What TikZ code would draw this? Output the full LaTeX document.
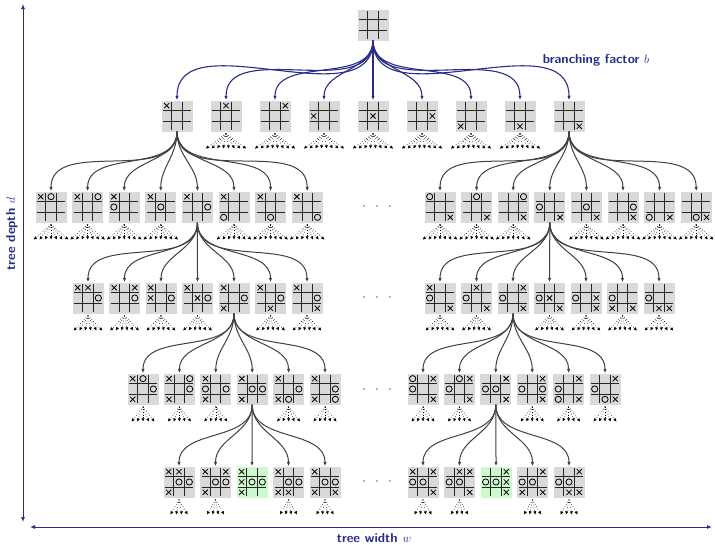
\documentclass[tikz,border=0pt]{standalone}
\usepackage{tikz}
\usetikzlibrary{arrows.meta}
\definecolor{navy}{RGB}{40,45,135}
\definecolor{boardgray}{gray}{0.85}
\definecolor{wingreen}{RGB}{205,250,205}

\newcommand{\board}[5][boardgray]{%
	\node (#2) at (#3) [boardbox, fill=#1] {};
	\begin{scope}[shift={(#3)}]
		\draw[gridline] (-14,-5.17) -- (14,-5.17) (-14,5.17) -- (14,5.17)
			(-5.17,-14) -- (-5.17,14) (5.17,-14) -- (5.17,14);
		\def\bxs{#4}\ifx\bxs\empty\else
		\foreach \c in {#4} {
			\pgfmathsetmacro\cx{(mod(\c-1,3)-1)*10.33}
			\pgfmathsetmacro\cy{(floor((\c-1)/3)-1)*10.33}
			\draw[xmark] (\cx-2.6,\cy-2.6) -- (\cx+2.6,\cy+2.6)
				(\cx-2.6,\cy+2.6) -- (\cx+2.6,\cy-2.6);
		}\fi
		\def\bos{#5}\ifx\bos\empty\else
		\foreach \c in {#5} {
			\pgfmathsetmacro\cx{(mod(\c-1,3)-1)*10.33}
			\pgfmathsetmacro\cy{(floor((\c-1)/3)-1)*10.33}
			\draw[omark] (\cx,\cy) circle (3.1);
		}\fi
	\end{scope}}

\newcommand{\fan}[2]{%
	\foreach \i in {1,...,#2} {
		\draw[fanline] ([yshift=-2pt]#1.south) -- ++({(\i-(#2+1)/2)*5.8},15);
	}}

\begin{document}
\begin{tikzpicture}[x=1pt, y=-1pt,
	boardbox/.style = {minimum size=31pt, inner sep=0pt},
	gridline/.style = {line width=1pt, black!85},
	xmark/.style = {line width=0.8pt, black},
	omark/.style = {line width=0.8pt, black},
	edge/.style = {line width=1pt, black!75, -{Latex[length=4.5pt,width=3.5pt]}},
	rootedge/.style = {edge, navy, line width=1.1pt},
	fanline/.style = {line width=0.6pt, black, dotted, -{Latex[length=3.4pt,width=3.2pt]}},
	axis/.style = {line width=1pt, navy, {Latex[length=5pt,width=4pt]}-{Latex[length=5pt,width=4pt]}},
	axislabel/.style = {navy, font=\fontsize{13}{15}\selectfont\sffamily\bfseries},
	dotsbox/.style = {font=\fontsize{13}{15}\selectfont}]

	\useasboundingbox (0,0) rectangle (715,544);

	\board{r}{373,25}{}{}
	\foreach \j in {1,...,9} {
		\pgfmathsetmacro\bx{177+49*(\j-1)}
		\board{a\j}{\bx,116}{\j}{}
		\ifnum\j=1 \else\ifnum\j=9 \else \fan{a\j}{8}\fi\fi
	}

	\foreach \k [count=\j] in {2,3,4,5,6,7,8,9} {
		\pgfmathsetmacro\bx{51+36.6*(\j-1)}
		\board{bl\j}{\bx,207}{1}{\k}
		\ifnum\j=5 \else \fan{bl\j}{7}\fi
	}
	\foreach \k [count=\j] in {1,2,3,4,5,6,7,8} {
		\pgfmathsetmacro\bx{440+36.6*(\j-1)}
		\board{br\j}{\bx,207}{9}{\k}
		\ifnum\j=4 \else \fan{br\j}{7}\fi
	}

	\foreach \k [count=\j] in {2,3,4,5,7,8,9} {
		\pgfmathsetmacro\bx{88+36.5*(\j-1)}
		\board{cl\j}{\bx,298}{1,\k}{6}
		\ifnum\j=5 \else \fan{cl\j}{6}\fi
	}
	\foreach \k [count=\j] in {1,2,3,5,6,7,8} {
		\pgfmathsetmacro\bx{440+36.5*(\j-1)}
		\board{cr\j}{\bx,298}{9,\k}{4}
		\ifnum\j=3 \else \fan{cr\j}{6}\fi
	}

	\foreach \k [count=\j] in {2,3,4,5,8,9} {
		\pgfmathsetmacro\bx{143+36.4*(\j-1)}
		\board{dl\j}{\bx,389}{1,7}{6,\k}
		\ifnum\j=4 \else \fan{dl\j}{5}\fi
	}
	\foreach \k [count=\j] in {1,2,5,6,7,8} {
		\pgfmathsetmacro\bx{423+36.4*(\j-1)}
		\board{dr\j}{\bx,389}{3,9}{4,\k}
		\ifnum\j=3 \else \fan{dr\j}{5}\fi
	}

	\foreach \k [count=\j] in {2,3,4,8,9} {
		\pgfmathsetmacro\bx{179+36.5*(\j-1)}
		\ifnum\j=3
			\board[wingreen]{el\j}{\bx,482}{1,7,\k}{5,6}
		\else
			\board{el\j}{\bx,482}{1,7,\k}{5,6}
			\fan{el\j}{4}
		\fi
	}
	\foreach \k [count=\j] in {1,2,6,7,8} {
		\pgfmathsetmacro\bx{423+36.5*(\j-1)}
		\ifnum\j=3
			\board[wingreen]{er\j}{\bx,482}{3,9,\k}{4,5}
		\else
			\board{er\j}{\bx,482}{3,9,\k}{4,5}
			\fan{er\j}{4}
		\fi
	}

	\foreach \j in {1,...,9}
		\draw[rootedge] (r.south) to[out=-90, in=90] (a\j.north);
	\foreach \j in {1,...,8} {
		\draw[edge] (a1.south) to[out=-90, in=90] (bl\j.north);
		\draw[edge] (a9.south) to[out=-90, in=90] (br\j.north);
	}
	\foreach \j in {1,...,7} {
		\draw[edge] (bl5.south) to[out=-90, in=90] (cl\j.north);
		\draw[edge] (br4.south) to[out=-90, in=90] (cr\j.north);
	}
	\foreach \j in {1,...,6} {
		\draw[edge] (cl5.south) to[out=-90, in=90] (dl\j.north);
		\draw[edge] (cr3.south) to[out=-90, in=90] (dr\j.north);
	}
	\foreach \j in {1,...,5} {
		\draw[edge] (dl4.south) to[out=-90, in=90] (el\j.north);
		\draw[edge] (dr3.south) to[out=-90, in=90] (er\j.north);
	}

	\foreach \lv/\y in {2/207, 3/298, 4/390, 5/482}
		\node (dots\lv) at (377,\y) [dotsbox] {$\cdot\hspace{7pt}\cdot\hspace{7pt}\cdot$};

	\node (bf) at (596,60) [axislabel] {branching factor $b$};

	\coordinate (dtop) at (23,4);
	\coordinate (dbot) at (23,522);
	\coordinate (wleft) at (30,527);
	\coordinate (wright) at (712,527);
	\draw[axis] (dtop) -- (dbot);
	\draw[axis] (wleft) -- (wright);
	\node (depth) at (12,234) [axislabel, rotate=90] {tree depth $d$};
	\node (width) at (374,538) [axislabel] {tree width $w$};

\end{tikzpicture}
\end{document}
